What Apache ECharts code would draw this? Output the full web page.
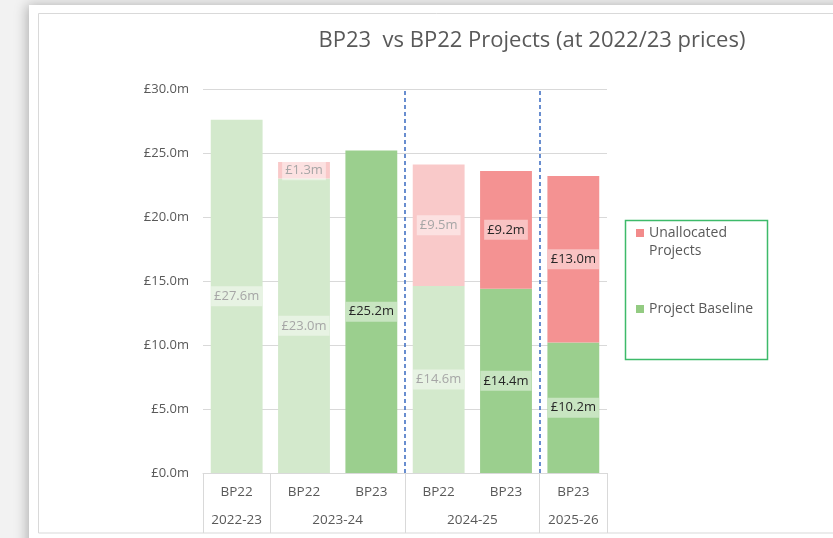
<!DOCTYPE html>
<html>
<head>
<meta charset="utf-8">
<script src="https://cdn.jsdelivr.net/npm/echarts@6/dist/echarts.min.js"></script>
<style>
html,body{margin:0;padding:0;background:#f2f2f2;}
#c{width:833px;height:538px;}
</style>
</head>
<body>
<div id="c"></div>
<script>
// ---- data ----
const plans = ['BP22', 'BP22', 'BP23', 'BP22', 'BP23', 'BP23'];
const years = ['2022-23', '2023-24', '2024-25', '2025-26'];
const yearSpans = [1, 2, 2, 1];
const baseline = [27.6, 23.0, 25.2, 14.6, 14.4, 10.2];
const unallocated = [null, 1.3, null, 9.5, 9.2, 13.0];
const yTicks = [0, 5, 10, 15, 20, 25, 30];
const seriesNames = ['Unallocated Projects', 'Project Baseline'];
const titleText = 'BP23  vs BP22 Projects (at 2022/23 prices)';

// derived group boundaries / centres for year row
const bounds = [0];
yearSpans.forEach(s => bounds.push(bounds[bounds.length - 1] + s));
const centres = yearSpans.map((s, i) => bounds[i] + s / 2);
const separators = [bounds[2], bounds[3]];

const FONT = 'Open Sans';
const colors = {
  greenLight: '#d3e9cc', greenDark: '#9bcf8e',
  redLight: '#f9c9c9', redDark: '#f49292',
  legendRed: '#f28b8b', legendGreen: '#93cb82'
};
const fmt = v => '£' + v.toFixed(1) + 'm';

function items(vals, light, dark) {
  return vals.map((v, i) => {
    if (v == null) return null;
    const old = plans[i] === 'BP22';
    return {
      value: v,
      itemStyle: { color: old ? light : dark },
      label: { color: old ? '#a6a6a6' : '#262626' }
    };
  });
}

const chart = echarts.init(document.getElementById('c'), null, { renderer: 'canvas' });
const labelCommon = {
  show: true, position: 'inside', fontFamily: FONT, fontSize: 13,
  backgroundColor: 'rgba(255,255,255,0.45)', padding: [4, 3, 3, 3],
  formatter: p => fmt(p.value)
};

chart.setOption({
  backgroundColor: '#f2f2f2',
  animation: false,
  graphic: [
    { type: 'rect', z: -10, shape: { x: 29, y: 5, width: 830, height: 560 },
      style: { fill: '#ffffff', shadowBlur: 12, shadowColor: 'rgba(0,0,0,0.28)', shadowOffsetX: -2, shadowOffsetY: 0 } },
    { type: 'rect', z: -9, shape: { x: 38.5, y: 13.5, width: 820, height: 519.5 },
      style: { fill: 'none', stroke: '#d9d9d9', lineWidth: 1 } },
    { type: 'rect', z: 5, shape: { x: 625.5, y: 220.5, width: 142, height: 139 },
      style: { fill: 'none', stroke: '#3dba6a', lineWidth: 1.5 } }
  ],
  title: {
    text: titleText, left: 527, textAlign: 'center', top: 25,
    textStyle: { fontFamily: FONT, fontSize: 22, fontWeight: 'normal', color: '#595959' }
  },
  legend: {
    data: seriesNames,
    orient: 'vertical', left: 636, top: 206,
    icon: 'rect', itemWidth: 8, itemHeight: 8, itemGap: 40,
    padding: 0,
    formatter: n => n === 'Unallocated Projects' ? '\nUnallocated\nProjects' : n,
    textStyle: { fontFamily: FONT, fontSize: 14, color: '#595959', lineHeight: 18 }
  },
  grid: { left: 203, right: 226, top: 89, bottom: 65 },
  xAxis: [
    { type: 'category', data: plans, position: 'bottom',
      axisLine: { lineStyle: { color: '#d9d9d9' } },
      axisTick: { show: false },
      axisLabel: { fontFamily: FONT, fontSize: 13.5, color: '#595959', margin: 12 } },
    { type: 'value', min: 0, max: bounds[bounds.length - 1], position: 'bottom',
      axisLine: { show: false }, splitLine: { show: false },
      axisTick: { show: true, customValues: bounds, length: 60, lineStyle: { color: '#d9d9d9' } },
      axisLabel: { customValues: centres, fontFamily: FONT, fontSize: 13.5, color: '#595959', margin: 40,
        formatter: v => { const i = centres.indexOf(v); return i >= 0 ? years[i] : ''; } } }
  ],
  yAxis: {
    type: 'value', min: yTicks[0], max: yTicks[yTicks.length - 1], interval: yTicks[1] - yTicks[0],
    axisLine: { show: false }, axisTick: { show: false },
    splitLine: { lineStyle: { color: '#d9d9d9' } },
    axisLabel: { fontFamily: FONT, fontSize: 13, color: '#595959', margin: 14, formatter: v => fmt(v) }
  },
  series: [
    { name: 'Project Baseline', type: 'bar', stack: 's', barWidth: '77%',
      itemStyle: { color: colors.legendGreen },
      data: items(baseline, colors.greenLight, colors.greenDark), label: labelCommon },
    { name: 'Unallocated Projects', type: 'bar', stack: 's', barWidth: '77%',
      itemStyle: { color: colors.legendRed },
      data: items(unallocated, colors.redLight, colors.redDark), label: labelCommon },
    { name: 'sep', type: 'line', xAxisIndex: 1, yAxisIndex: 0, data: [],
      markLine: { silent: true, symbol: ['none', 'none'], label: { show: false },
        lineStyle: { color: '#4472c4', type: [4, 3], width: 1.6 },
        data: separators.map(x => ({ xAxis: x })) } }
  ]
});
</script>
</body>
</html>
